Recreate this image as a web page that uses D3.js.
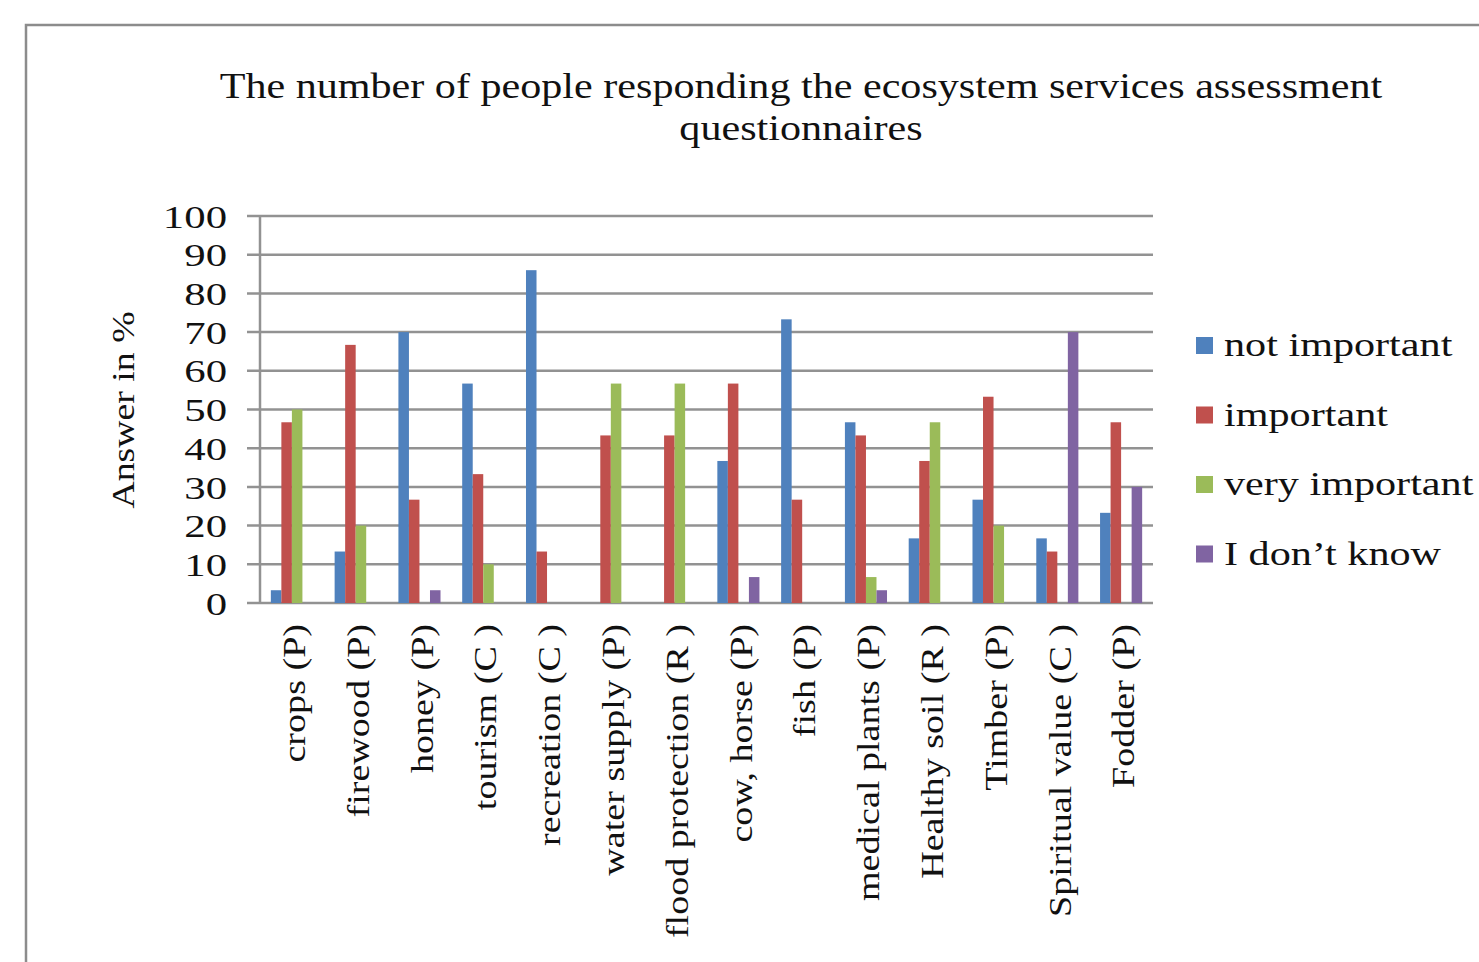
<!DOCTYPE html>
<html>
<head>
<meta charset="utf-8">
<script src="https://cdn.jsdelivr.net/npm/d3@7"></script>
<style>
  body { margin: 0; background: #fff; }
  svg { display: block; font-family: "Liberation Serif", "Times New Roman", serif; }
</style>
</head>
<body>
<svg id="chart" width="1479" height="962"></svg>
<script>
const categories = ['crops (P)', 'firewood (P)', 'honey (P)', 'tourism (C )', 'recreation (C )',
  'water supply (P)', 'flood protection (R )', 'cow, horse (P)', 'fish (P)', 'medical plants (P)',
  'Healthy soil (R )', 'Timber (P)', 'Spiritual value (C )', 'Fodder (P)'];
const seriesNames = ['not important', 'important', 'very important', 'I don\u2019t know'];
const notImportant  = [3.3, 13.3, 70, 56.7, 86, 0, 0, 36.7, 73.3, 46.7, 16.7, 26.7, 16.7, 23.3];
const important     = [46.7, 66.7, 26.7, 33.3, 13.3, 43.3, 43.3, 56.7, 26.7, 43.3, 36.7, 53.3, 13.3, 46.7];
const veryImportant = [50, 20, 0, 10, 0, 56.7, 56.7, 0, 0, 6.7, 46.7, 20, 0, 0];
const dontKnow      = [0, 0, 3.3, 0, 0, 0, 0, 6.7, 0, 3.3, 0, 0, 70, 30];
const yTicks = [0, 10, 20, 30, 40, 50, 60, 70, 80, 90, 100];
const colors = ['#4f81bd', '#c0504d', '#9bbb59', '#8064a2'];

const series = [notImportant, important, veryImportant, dontKnow];

// the source picture has wide-set lettering, so stretch text along its baseline
function stretch(sel, factor) {
  sel.each(function() {
    const len = this.getComputedTextLength();
    d3.select(this).attr('textLength', len * factor).attr('lengthAdjust', 'spacingAndGlyphs');
  });
}

const svg = d3.select('#chart');
const margin = { top: 216, left: 260, right: 326, bottom: 359 };
const width = 1479 - margin.left - margin.right;
const height = 962 - margin.top - margin.bottom;

// outer frame
svg.append('rect')
  .attr('x', 26).attr('y', 25)
  .attr('width', 1500).attr('height', 1000)
  .attr('fill', 'none').attr('stroke', '#8c8c8c').attr('stroke-width', 2.5);

const title = svg.append('text')
  .attr('x', 801).attr('y', 98)
  .attr('text-anchor', 'middle')
  .attr('font-size', 36)
  .attr('fill', '#111');
title.selectAll('tspan')
  .data(['The number of people responding the ecosystem services assessment', 'questionnaires'])
  .join('tspan')
    .attr('x', 801)
    .attr('dy', (d, i) => i ? 42 : 0)
    .text(d => d);
stretch(title.selectAll('tspan'), 1.17);

const g = svg.append('g').attr('transform', `translate(${margin.left},${margin.top})`);

const x = d3.scaleBand().domain(categories).range([0, width]).paddingInner(0.34).paddingOuter(0.17);
const xs = d3.scaleBand().domain(d3.range(4)).range([0, x.bandwidth()]);
const y = d3.scaleLinear().domain([0, 100]).range([height, 0]);

// gridlines
g.append('g')
  .selectAll('line')
  .data(yTicks)
  .join('line')
    .attr('x1', -13).attr('x2', width)
    .attr('y1', d => y(d)).attr('y2', d => y(d))
    .attr('stroke', '#929292').attr('stroke-width', 2.5);

g.append('line')
  .attr('x1', 0).attr('x2', 0).attr('y1', 0).attr('y2', height)
  .attr('stroke', '#929292').attr('stroke-width', 2.5);

const yAxis = g.append('g')
  .call(d3.axisLeft(y).tickValues(yTicks).tickSize(0).tickPadding(33));
yAxis.select('.domain').remove();
yAxis.selectAll('text').attr('font-size', 31).attr('font-family', '"Liberation Serif", serif').attr('fill', '#111').attr('dy', '0.36em');
stretch(yAxis.selectAll('text'), 1.38);

// bars
const groups = g.append('g')
  .selectAll('g')
  .data(categories)
  .join('g')
    .attr('transform', d => `translate(${x(d)},0)`);

groups.selectAll('rect')
  .data((d, i) => series.map((s, k) => ({ k, v: s[i] })))
  .join('rect')
    .attr('x', d => xs(d.k))
    .attr('y', d => y(d.v))
    .attr('width', xs.bandwidth())
    .attr('height', d => height - y(d.v))
    .attr('fill', d => colors[d.k]);

// x labels
const xAxis = g.append('g')
  .attr('transform', `translate(0,${height})`)
  .call(d3.axisBottom(x).tickSize(0));
xAxis.select('.domain').remove();
xAxis.selectAll('text')
  .attr('font-size', 32)
  .attr('font-family', '"Liberation Serif", serif')
  .attr('fill', '#111')
  .attr('text-anchor', 'end')
  .attr('transform', 'rotate(-90)')
  .attr('x', -21).attr('y', 2).attr('dy', '0.35em');
stretch(xAxis.selectAll('text'), 1.19);

// y title
const yTitle = svg.append('text')
  .attr('transform', 'translate(134,410) rotate(-90)')
  .attr('text-anchor', 'middle')
  .attr('font-size', 32)
  .attr('fill', '#111')
  .text('Answer in %');
stretch(yTitle, 1.18);

// legend
const legend = svg.append('g').attr('transform', 'translate(1196,345)');
const items = legend.selectAll('g')
  .data(seriesNames)
  .join('g')
    .attr('transform', (d, i) => `translate(0,${i * 69.5})`);
items.append('rect')
  .attr('x', 0).attr('y', -8).attr('width', 17).attr('height', 17)
  .attr('fill', (d, i) => colors[i]);
items.append('text')
  .attr('x', 28).attr('dy', '0.33em')
  .attr('font-size', 34)
  .attr('fill', '#111')
  .text(d => d);
stretch(items.selectAll('text'), 1.24);
</script>
</body>
</html>
